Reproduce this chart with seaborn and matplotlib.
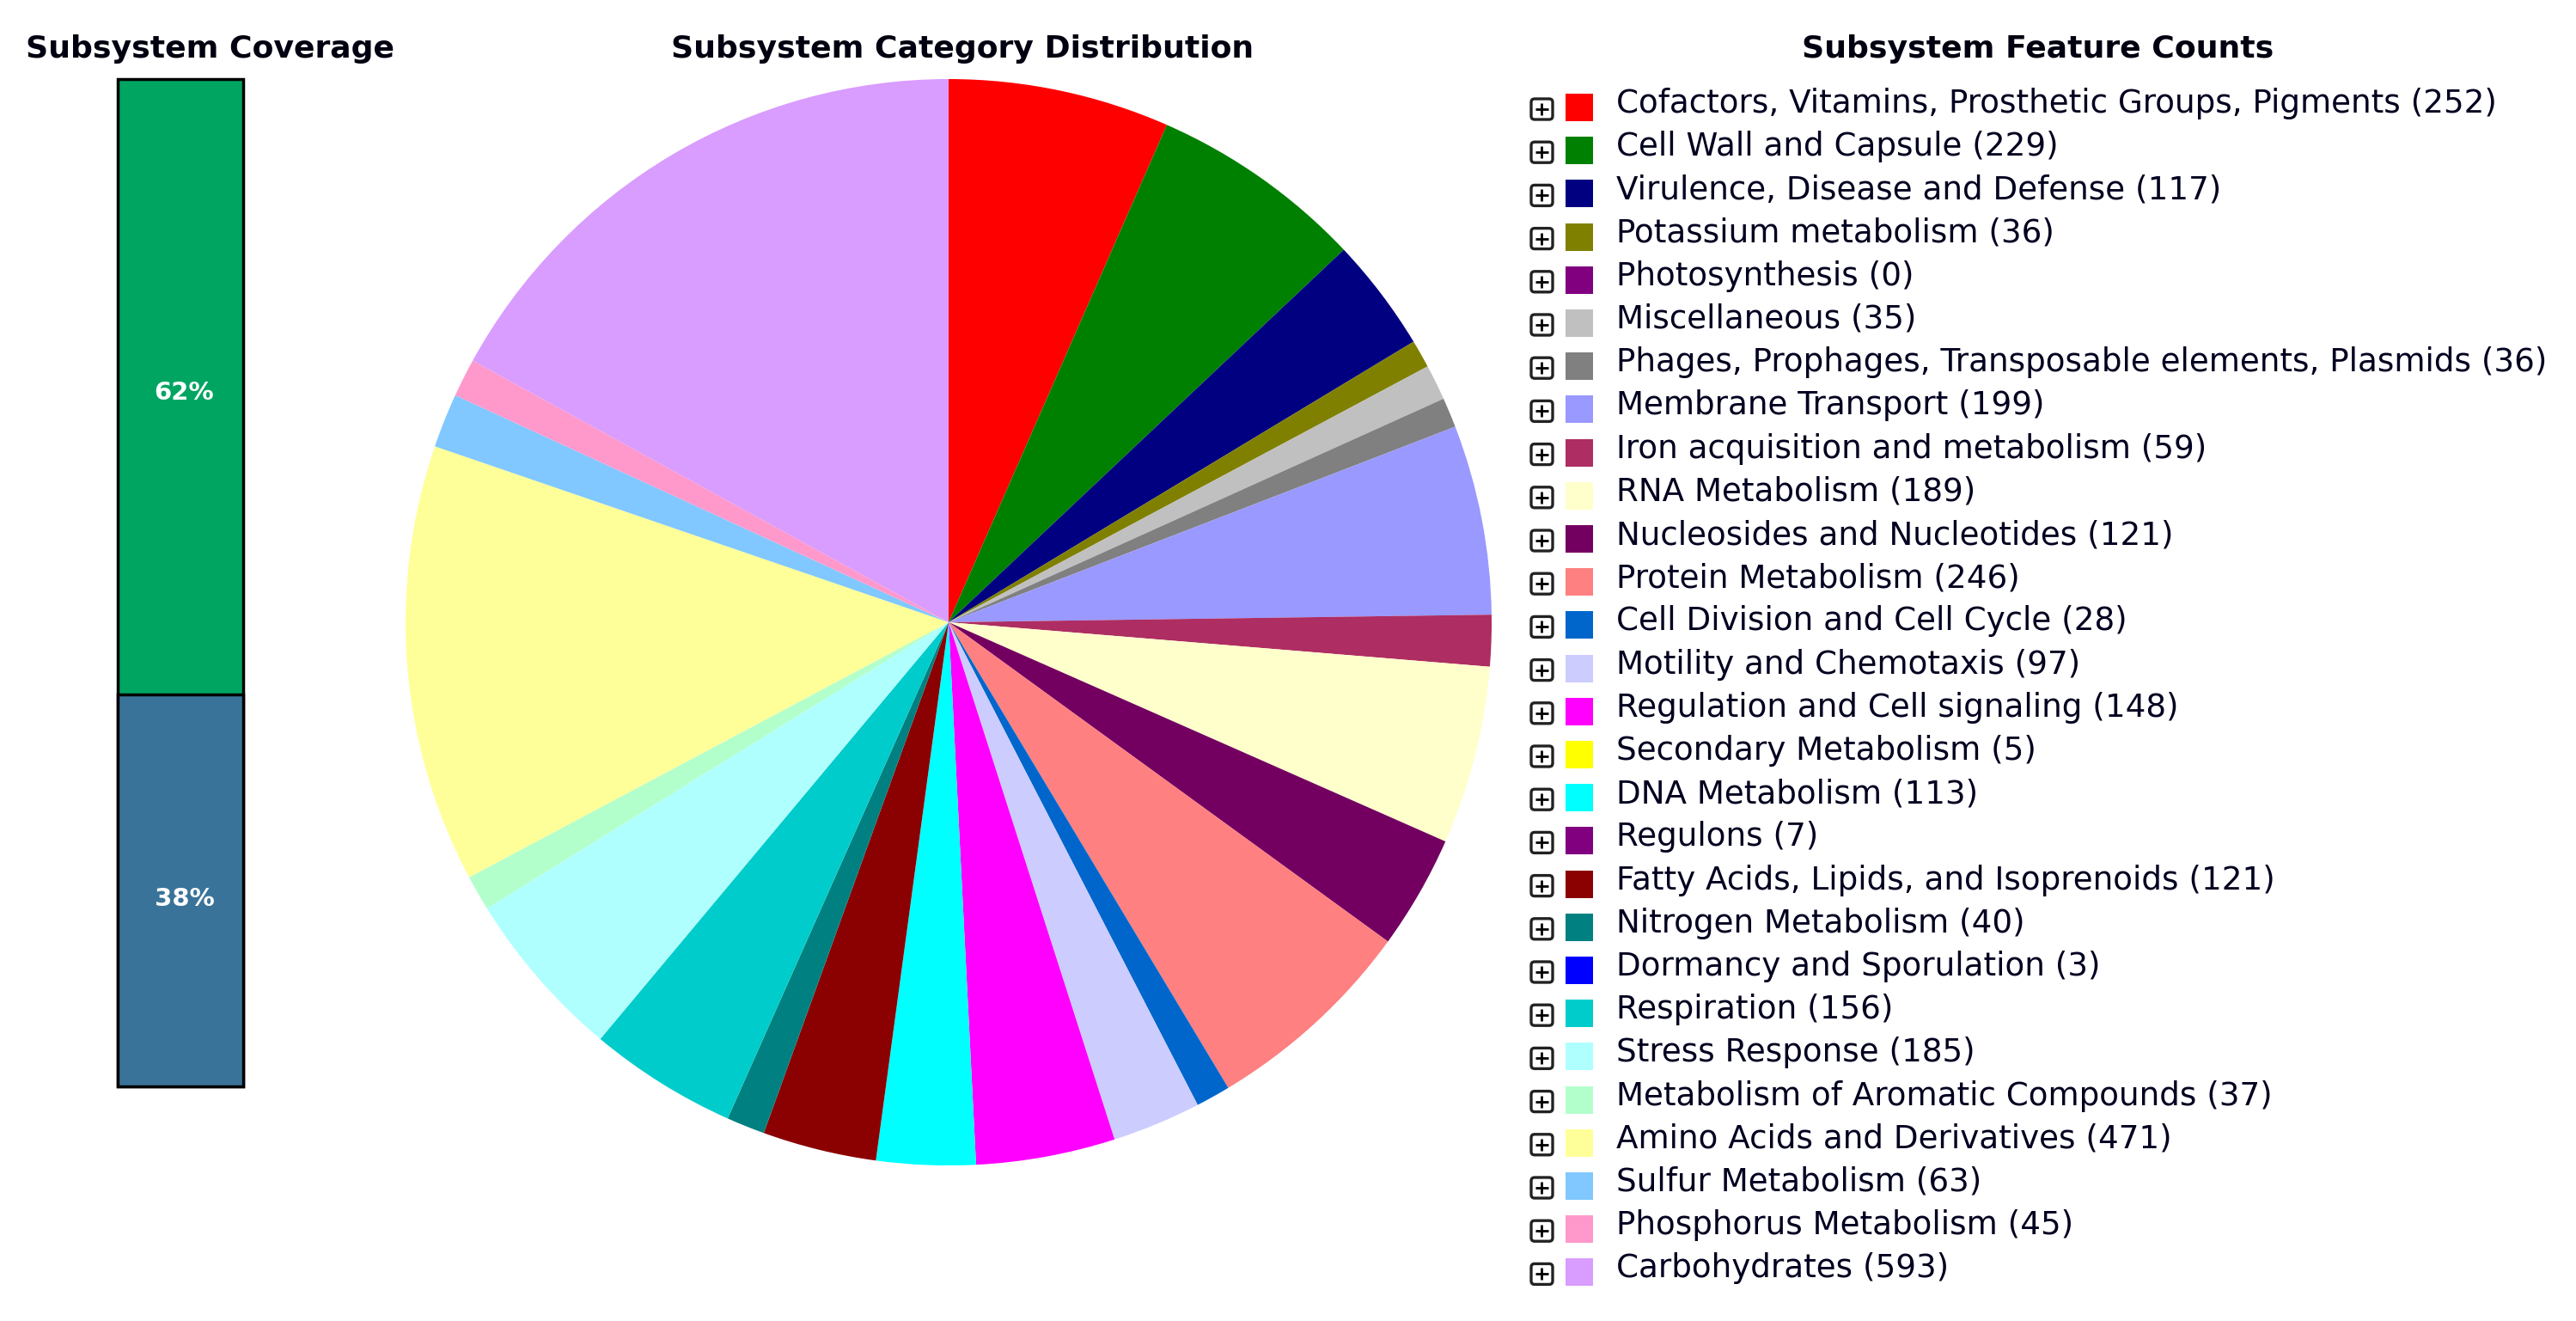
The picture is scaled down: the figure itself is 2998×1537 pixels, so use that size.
# subsystem summary: coverage bar, category pie and feature count list
import matplotlib
matplotlib.use("Agg")
import matplotlib.pyplot as plt
from matplotlib.patches import Rectangle, FancyBboxPatch
import pandas as pd
import seaborn as sns

categories = [
    "Cofactors, Vitamins, Prosthetic Groups, Pigments", "Cell Wall and Capsule",
    "Virulence, Disease and Defense", "Potassium metabolism", "Photosynthesis",
    "Miscellaneous", "Phages, Prophages, Transposable elements, Plasmids",
    "Membrane Transport", "Iron acquisition and metabolism", "RNA Metabolism",
    "Nucleosides and Nucleotides", "Protein Metabolism", "Cell Division and Cell Cycle",
    "Motility and Chemotaxis", "Regulation and Cell signaling", "Secondary Metabolism",
    "DNA Metabolism", "Regulons", "Fatty Acids, Lipids, and Isoprenoids",
    "Nitrogen Metabolism", "Dormancy and Sporulation", "Respiration", "Stress Response",
    "Metabolism of Aromatic Compounds", "Amino Acids and Derivatives", "Sulfur Metabolism",
    "Phosphorus Metabolism", "Carbohydrates",
]
counts = [252, 229, 117, 36, 0, 35, 36, 199, 59, 189, 121, 246, 28, 97, 148, 5, 113, 7,
          121, 40, 3, 156, 185, 37, 471, 63, 45, 593]
# wedge sizes in degrees, they do not follow the printed counts exactly
# and the tiny categories have no visible wedge at all
wedge_degrees = [23.7, 23.0, 12.2, 3.0, 0, 3.8, 3.2, 20.3, 5.5, 19.1, 12.2, 23.0, 3.7, 9.5,
                 14.9, 0, 10.6, 0, 12.2, 4.1, 0, 15.9, 18.3, 3.8, 46.9, 5.8, 4.1, 61.2]
colors = ["#FF0000", "#008000", "#000080", "#808000", "#800080", "#C0C0C0", "#808080",
          "#9999FF", "#AE2D62", "#FFFFCC", "#730060", "#FF8080", "#0066CC", "#CCCCFF",
          "#FF00FF", "#FFFF00", "#00FFFF", "#800080", "#8B0000", "#008080", "#0000FF",
          "#00CCCC", "#B0FFFF", "#B3FFCC", "#FFFF99", "#80C8FF", "#FF99CC", "#D99CFF"]

coverage_labels = ["62%", "38%"]
coverage_heights = [61.1, 38.9]  # as drawn, the split sits a bit above the printed 62%
coverage_colors = ["#00A562", "#3A7399"]

W, H = 2998, 1537


def px_axes(fig, x0, y0, x1, y1):
    # axes placed by pixel box, y measured from the top of the image
    return fig.add_axes([x0 / W, 1 - y1 / H, (x1 - x0) / W, (y1 - y0) / H])


sns.set_theme(style="white")
plt.rcParams["font.family"] = ["DejaVu Sans"]

fig = plt.figure(figsize=(W / 100, H / 100), dpi=100, facecolor="white")

# titles and list share one axes in image pixels
page = px_axes(fig, 0, 0, W, H)
page.set_xlim(0, W)
page.set_ylim(H, 0)
page.axis("off")

title_size = 26.1
page.text(245, 67, "Subsystem Coverage", fontsize=title_size, fontweight="bold", ha="center", va="baseline", color="#000010")
page.text(1120, 67, "Subsystem Category Distribution", fontsize=title_size, fontweight="bold", ha="center", va="baseline", color="#000010")
page.text(2372, 67, "Subsystem Feature Counts", fontsize=title_size, fontweight="bold", ha="center", va="baseline", color="#000010")

row_step = 50.2
for i, (name, n, c) in enumerate(zip(categories, counts, colors)):
    yc = 127 + i * row_step
    page.add_patch(FancyBboxPatch((1782, yc - 12), 25, 24, boxstyle="round,pad=0,rounding_size=4",
                                  fc="white", ec="#222222", lw=2.4))
    page.plot([1787, 1802], [yc, yc], color="black", lw=2.0, solid_capstyle="butt")
    page.plot([1794.5, 1794.5], [yc - 7, yc + 7], color="black", lw=2.0, solid_capstyle="butt")
    page.add_patch(Rectangle((1822, yc - 18), 32, 32, fc=c, ec="none"))
    page.text(1881, yc + 4, f"{name} ({n})", fontsize=26.8, ha="left", va="baseline", color="#000020")

# coverage bar, the second bar is laid over the running total
bar_ax = px_axes(fig, 137, 92, 283, 1264)
cov = pd.DataFrame({"part": ["coverage"], "total": [sum(coverage_heights)], "lower": [coverage_heights[1]]})
sns.barplot(data=cov, x="part", y="total", color=coverage_colors[0], saturation=1, width=1,
            edgecolor="black", linewidth=2.5, ax=bar_ax)
sns.barplot(data=cov, x="part", y="lower", color=coverage_colors[1], saturation=1, width=1,
            edgecolor="black", linewidth=2.5, ax=bar_ax)
bar_ax.set_xlim(-0.5, 0.5)
bar_ax.set_ylim(0, 100)
bar_ax.axis("off")
for p in bar_ax.patches:
    p.set_clip_on(False)
bar_ax.text(0.03, coverage_heights[1] + coverage_heights[0] / 2 - 0.6, coverage_labels[0], color="white",
            fontsize=21, fontweight="bold", ha="center", va="center")
bar_ax.text(0.03, coverage_heights[1] / 2 - 0.85, coverage_labels[1], color="white",
            fontsize=21, fontweight="bold", ha="center", va="center")

# category pie, clockwise from 12 o'clock
pie_ax = px_axes(fig, 472, 92, 1736, 1356)
pie_ax.pie(wedge_degrees, colors=sns.color_palette(colors), startangle=90, counterclock=False, radius=1,
           wedgeprops={"linewidth": 0})
pie_ax.set_xlim(-1, 1)
pie_ax.set_ylim(-1, 1)

fig.savefig("out.png", dpi=100)
